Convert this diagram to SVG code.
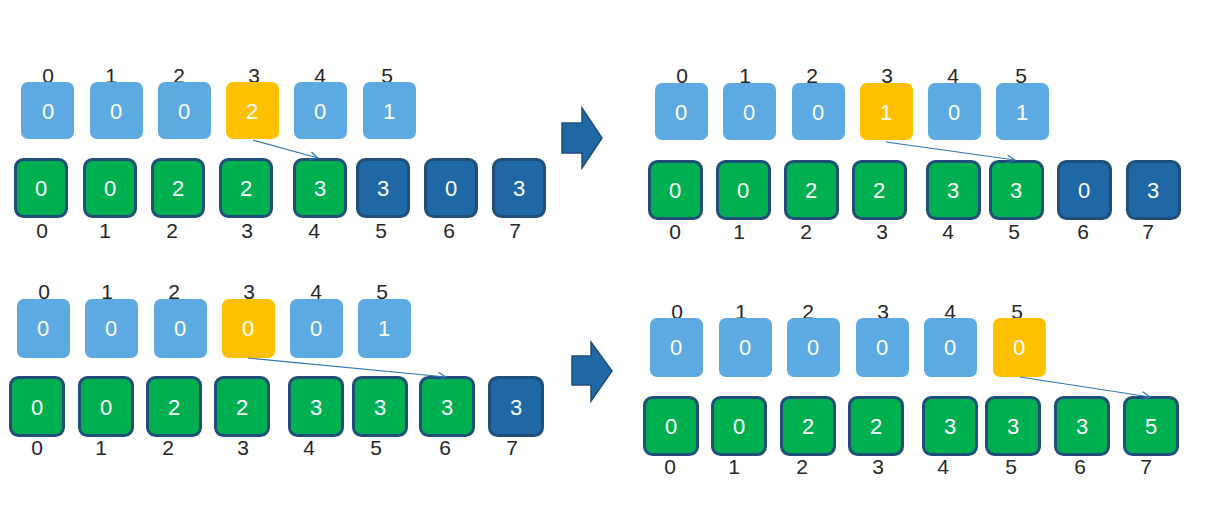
<svg xmlns="http://www.w3.org/2000/svg" width="1217" height="515" viewBox="0 0 1217 515">
<style>
text{font-family:"Liberation Sans","Noto Sans",Arial,sans-serif;text-anchor:middle}
.idx{fill:#262626;font-size:21px}
.val{fill:#ffffff;font-size:22px}
.lb{fill:#5DA9E1}
.or{fill:#FFC000}
.gr{fill:#00B050;stroke:#1F4E79;stroke-width:3}
.db{fill:#1F67A5;stroke:#1F4E79;stroke-width:3}
.conn{stroke:#2E75B6;stroke-width:1.2;fill:none;marker-end:url(#open)}
.big{fill:#1F67A5;stroke:#1F4E79;stroke-width:1.5}
</style>
<defs>
<marker id="open" viewBox="0 0 10 10" refX="9" refY="5" markerWidth="10" markerHeight="10" markerUnits="userSpaceOnUse" orient="auto">
<path d="M1,1 L9,5 L1,9" fill="none" stroke="#2E75B6" stroke-width="1.2"/>
</marker>
</defs>
<rect width="1217" height="515" fill="#ffffff"/>

<!-- Panel 1 -->
<g id="p1-top">
<g id="p1-t0"><text class="idx" x="48" y="83">0</text><rect class="lb" x="21" y="82" width="53" height="57" rx="7"/><text class="val" x="48" y="119">0</text></g>
<g id="p1-t1"><text class="idx" x="111" y="83">1</text><rect class="lb" x="90" y="82" width="53" height="57" rx="7"/><text class="val" x="116" y="119">0</text></g>
<g id="p1-t2"><text class="idx" x="179" y="83">2</text><rect class="lb" x="158" y="82" width="53" height="57" rx="7"/><text class="val" x="184" y="119">0</text></g>
<g id="p1-t3"><text class="idx" x="254" y="83">3</text><rect class="or" x="226" y="82" width="53" height="57" rx="7"/><text class="val" x="252" y="119">2</text></g>
<g id="p1-t4"><text class="idx" x="320" y="83">4</text><rect class="lb" x="294" y="82" width="53" height="57" rx="7"/><text class="val" x="320" y="119">0</text></g>
<g id="p1-t5"><text class="idx" x="387" y="83">5</text><rect class="lb" x="363" y="82" width="53" height="57" rx="7"/><text class="val" x="389" y="119">1</text></g>
</g>
<g id="p1-bottom">
<g id="p1-b0"><rect class="gr" x="15.5" y="159.5" width="51" height="57" rx="8"/><text class="val" x="41" y="196">0</text><text class="idx" x="42" y="238">0</text></g>
<g id="p1-b1"><rect class="gr" x="84.5" y="159.5" width="51" height="57" rx="8"/><text class="val" x="110" y="196">0</text><text class="idx" x="105" y="238">1</text></g>
<g id="p1-b2"><rect class="gr" x="152.5" y="159.5" width="51" height="57" rx="8"/><text class="val" x="178" y="196">2</text><text class="idx" x="172" y="238">2</text></g>
<g id="p1-b3"><rect class="gr" x="220.5" y="159.5" width="51" height="57" rx="8"/><text class="val" x="246" y="196">2</text><text class="idx" x="247" y="238">3</text></g>
<g id="p1-b4"><rect class="gr" x="294.5" y="159.5" width="51" height="57" rx="8"/><text class="val" x="320" y="196">3</text><text class="idx" x="314" y="238">4</text></g>
<g id="p1-b5"><rect class="db" x="357.5" y="159.5" width="51" height="57" rx="8"/><text class="val" x="383" y="196">3</text><text class="idx" x="381" y="238">5</text></g>
<g id="p1-b6"><rect class="db" x="425.5" y="159.5" width="51" height="57" rx="8"/><text class="val" x="451" y="196">0</text><text class="idx" x="449" y="238">6</text></g>
<g id="p1-b7"><rect class="db" x="493.5" y="159.5" width="51" height="57" rx="8"/><text class="val" x="519" y="196">3</text><text class="idx" x="515" y="238">7</text></g>
</g>

<!-- Panel 2 -->
<g id="p2-top">
<g id="p2-t0"><text class="idx" x="682" y="83">0</text><rect class="lb" x="655" y="83" width="53" height="57" rx="7"/><text class="val" x="681" y="120">0</text></g>
<g id="p2-t1"><text class="idx" x="745" y="83">1</text><rect class="lb" x="723" y="83" width="53" height="57" rx="7"/><text class="val" x="749" y="120">0</text></g>
<g id="p2-t2"><text class="idx" x="812" y="83">2</text><rect class="lb" x="792" y="83" width="53" height="57" rx="7"/><text class="val" x="818" y="120">0</text></g>
<g id="p2-t3"><text class="idx" x="887" y="83">3</text><rect class="or" x="860" y="83" width="53" height="57" rx="7"/><text class="val" x="886" y="120">1</text></g>
<g id="p2-t4"><text class="idx" x="953" y="83">4</text><rect class="lb" x="928" y="83" width="53" height="57" rx="7"/><text class="val" x="954" y="120">0</text></g>
<g id="p2-t5"><text class="idx" x="1021" y="83">5</text><rect class="lb" x="996" y="83" width="53" height="57" rx="7"/><text class="val" x="1022" y="120">1</text></g>
</g>
<g id="p2-bottom">
<g id="p2-b0"><rect class="gr" x="649.5" y="161.5" width="52" height="57" rx="8"/><text class="val" x="675" y="198">0</text><text class="idx" x="675" y="239">0</text></g>
<g id="p2-b1"><rect class="gr" x="717.5" y="161.5" width="52" height="57" rx="8"/><text class="val" x="743" y="198">0</text><text class="idx" x="739" y="239">1</text></g>
<g id="p2-b2"><rect class="gr" x="785.5" y="161.5" width="52" height="57" rx="8"/><text class="val" x="811" y="198">2</text><text class="idx" x="806" y="239">2</text></g>
<g id="p2-b3"><rect class="gr" x="853.5" y="161.5" width="52" height="57" rx="8"/><text class="val" x="879" y="198">2</text><text class="idx" x="882" y="239">3</text></g>
<g id="p2-b4"><rect class="gr" x="927.5" y="161.5" width="52" height="57" rx="8"/><text class="val" x="953" y="198">3</text><text class="idx" x="948" y="239">4</text></g>
<g id="p2-b5"><rect class="gr" x="990.5" y="161.5" width="52" height="57" rx="8"/><text class="val" x="1016" y="198">3</text><text class="idx" x="1014" y="239">5</text></g>
<g id="p2-b6"><rect class="db" x="1058.5" y="161.5" width="52" height="57" rx="8"/><text class="val" x="1084" y="198">0</text><text class="idx" x="1083" y="239">6</text></g>
<g id="p2-b7"><rect class="db" x="1127.5" y="161.5" width="52" height="57" rx="8"/><text class="val" x="1153" y="198">3</text><text class="idx" x="1148" y="239">7</text></g>
</g>

<!-- Panel 3 -->
<g id="p3-top">
<g id="p3-t0"><text class="idx" x="44" y="299">0</text><rect class="lb" x="17" y="299" width="53" height="59" rx="7"/><text class="val" x="43" y="336">0</text></g>
<g id="p3-t1"><text class="idx" x="107" y="299">1</text><rect class="lb" x="85" y="299" width="53" height="59" rx="7"/><text class="val" x="111" y="336">0</text></g>
<g id="p3-t2"><text class="idx" x="174" y="299">2</text><rect class="lb" x="154" y="299" width="53" height="59" rx="7"/><text class="val" x="180" y="336">0</text></g>
<g id="p3-t3"><text class="idx" x="249" y="299">3</text><rect class="or" x="222" y="299" width="53" height="59" rx="7"/><text class="val" x="248" y="336">0</text></g>
<g id="p3-t4"><text class="idx" x="316" y="299">4</text><rect class="lb" x="290" y="299" width="53" height="59" rx="7"/><text class="val" x="316" y="336">0</text></g>
<g id="p3-t5"><text class="idx" x="382" y="299">5</text><rect class="lb" x="358" y="299" width="53" height="59" rx="7"/><text class="val" x="384" y="336">1</text></g>
</g>
<g id="p3-bottom">
<g id="p3-b0"><rect class="gr" x="10.5" y="377.5" width="53" height="58" rx="8"/><text class="val" x="37" y="415">0</text><text class="idx" x="37" y="455">0</text></g>
<g id="p3-b1"><rect class="gr" x="79.5" y="377.5" width="53" height="58" rx="8"/><text class="val" x="106" y="415">0</text><text class="idx" x="101" y="455">1</text></g>
<g id="p3-b2"><rect class="gr" x="147.5" y="377.5" width="53" height="58" rx="8"/><text class="val" x="174" y="415">2</text><text class="idx" x="168" y="455">2</text></g>
<g id="p3-b3"><rect class="gr" x="215.5" y="377.5" width="53" height="58" rx="8"/><text class="val" x="242" y="415">2</text><text class="idx" x="243" y="455">3</text></g>
<g id="p3-b4"><rect class="gr" x="289.5" y="377.5" width="53" height="58" rx="8"/><text class="val" x="316" y="415">3</text><text class="idx" x="309" y="455">4</text></g>
<g id="p3-b5"><rect class="gr" x="353.5" y="377.5" width="53" height="58" rx="8"/><text class="val" x="380" y="415">3</text><text class="idx" x="376" y="455">5</text></g>
<g id="p3-b6"><rect class="gr" x="420.5" y="377.5" width="53" height="58" rx="8"/><text class="val" x="447" y="415">3</text><text class="idx" x="445" y="455">6</text></g>
<g id="p3-b7"><rect class="db" x="489.5" y="377.5" width="53" height="58" rx="8"/><text class="val" x="516" y="415">3</text><text class="idx" x="512" y="455">7</text></g>
</g>

<!-- Panel 4 -->
<g id="p4-top">
<g id="p4-t0"><text class="idx" x="677" y="319">0</text><rect class="lb" x="650" y="318" width="53" height="59" rx="7"/><text class="val" x="676" y="355">0</text></g>
<g id="p4-t1"><text class="idx" x="741" y="319">1</text><rect class="lb" x="719" y="318" width="53" height="59" rx="7"/><text class="val" x="745" y="355">0</text></g>
<g id="p4-t2"><text class="idx" x="808" y="319">2</text><rect class="lb" x="787" y="318" width="53" height="59" rx="7"/><text class="val" x="813" y="355">0</text></g>
<g id="p4-t3"><text class="idx" x="883" y="319">3</text><rect class="lb" x="856" y="318" width="53" height="59" rx="7"/><text class="val" x="882" y="355">0</text></g>
<g id="p4-t4"><text class="idx" x="950" y="319">4</text><rect class="lb" x="924" y="318" width="53" height="59" rx="7"/><text class="val" x="950" y="355">0</text></g>
<g id="p4-t5"><text class="idx" x="1017" y="319">5</text><rect class="or" x="993" y="318" width="53" height="59" rx="7"/><text class="val" x="1019" y="355">0</text></g>
</g>
<g id="p4-bottom">
<g id="p4-b0"><rect class="gr" x="644.5" y="397.5" width="53" height="57" rx="8"/><text class="val" x="671" y="434">0</text><text class="idx" x="670" y="474">0</text></g>
<g id="p4-b1"><rect class="gr" x="712.5" y="397.5" width="53" height="57" rx="8"/><text class="val" x="739" y="434">0</text><text class="idx" x="734" y="474">1</text></g>
<g id="p4-b2"><rect class="gr" x="781.5" y="397.5" width="53" height="57" rx="8"/><text class="val" x="808" y="434">2</text><text class="idx" x="802" y="474">2</text></g>
<g id="p4-b3"><rect class="gr" x="849.5" y="397.5" width="53" height="57" rx="8"/><text class="val" x="876" y="434">2</text><text class="idx" x="878" y="474">3</text></g>
<g id="p4-b4"><rect class="gr" x="923.5" y="397.5" width="53" height="57" rx="8"/><text class="val" x="950" y="434">3</text><text class="idx" x="943" y="474">4</text></g>
<g id="p4-b5"><rect class="gr" x="986.5" y="397.5" width="53" height="57" rx="8"/><text class="val" x="1013" y="434">3</text><text class="idx" x="1011" y="474">5</text></g>
<g id="p4-b6"><rect class="gr" x="1055.5" y="397.5" width="53" height="57" rx="8"/><text class="val" x="1082" y="434">3</text><text class="idx" x="1080" y="474">6</text></g>
<g id="p4-b7"><rect class="gr" x="1124.5" y="397.5" width="53" height="57" rx="8"/><text class="val" x="1151" y="434">5</text><text class="idx" x="1146" y="474">7</text></g>
</g>

<!-- big block arrows -->
<g id="step-arrow-1"><polygon class="big" points="562,123 582,123 582,108 602,138 582,168 582,153 562,153"/></g>
<g id="step-arrow-2"><polygon class="big" points="572,356 591,356 591,342 612,371 591,401 591,385 572,385"/></g>

<!-- connectors -->
<g id="connectors">
<line class="conn" x1="253" y1="140" x2="318" y2="158"/>
<line class="conn" x1="886" y1="142" x2="1015" y2="160"/>
<line class="conn" x1="248" y1="358" x2="446" y2="377"/>
<line class="conn" x1="1020" y1="377" x2="1150" y2="397"/>
</g>
</svg>
